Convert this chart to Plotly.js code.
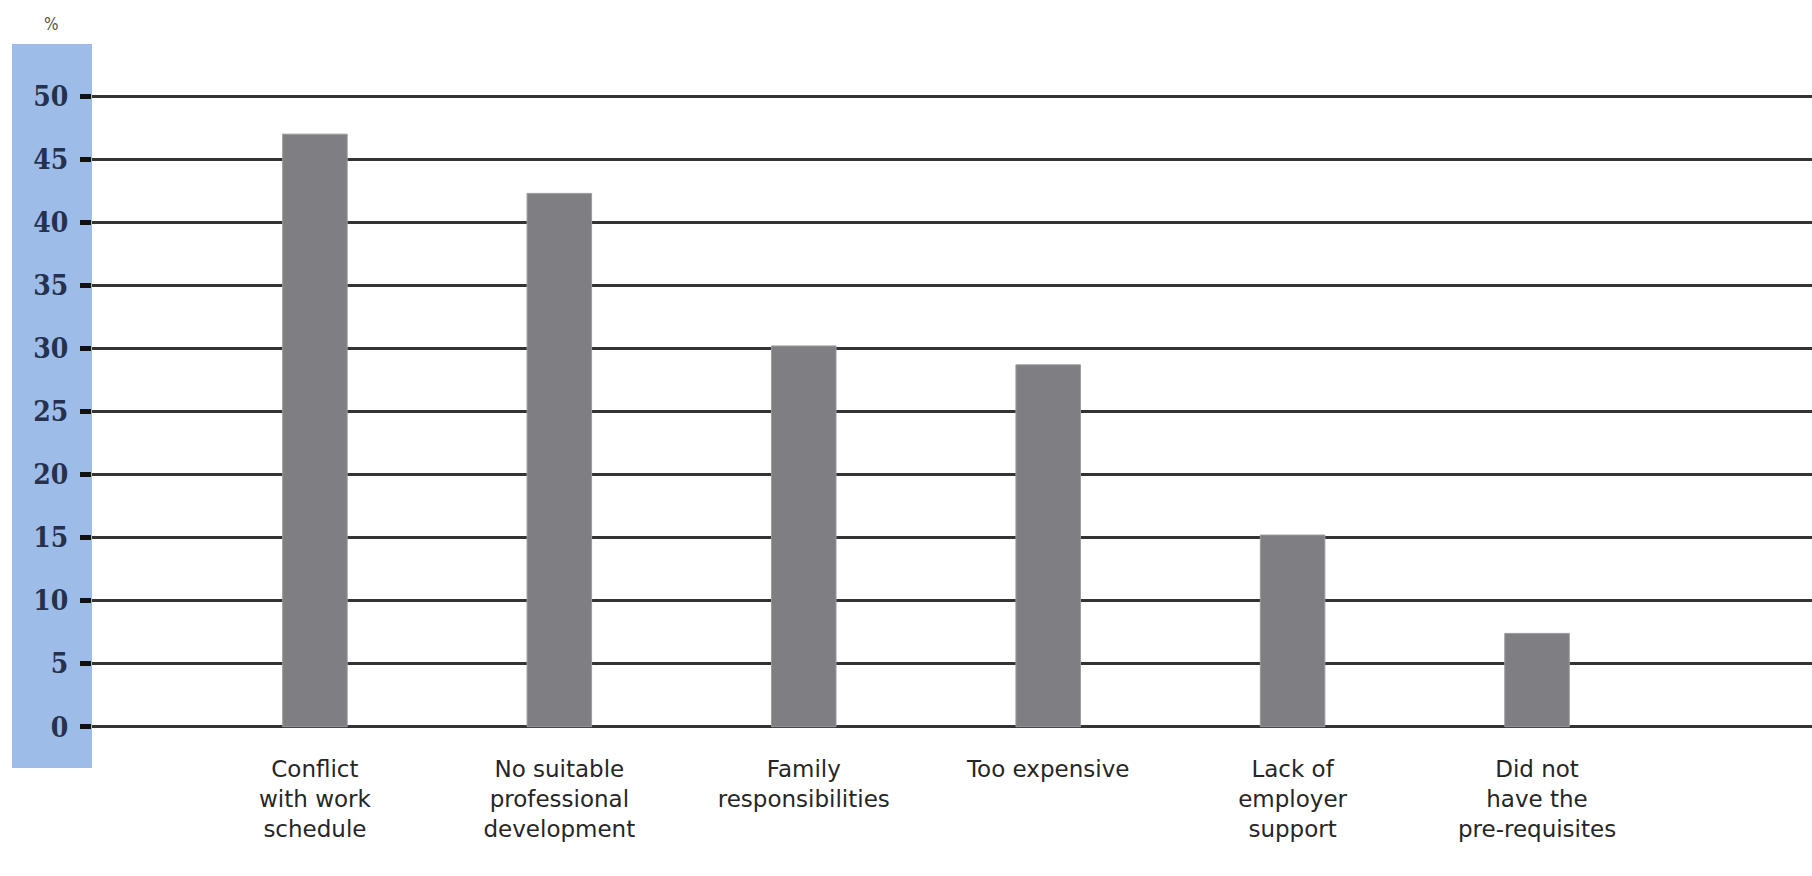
<!DOCTYPE html>
<html>
<head>
<meta charset="utf-8">
<script src="https://cdn.plot.ly/plotly-3.0.1.min.js"></script>
<style>html,body{margin:0;padding:0;background:#fff;overflow:hidden}#chart{width:1812px;height:876px}</style>
</head>
<body>
<div id="chart"></div>
<script>
var categories = [
  "Conflict<br>with work<br>schedule",
  "No suitable<br>professional<br>development",
  "Family<br>responsibilities",
  "Too expensive",
  "Lack of<br>employer<br>support",
  "Did not<br>have the<br>pre-requisites"
];
var values = [47.0, 42.3, 30.2, 28.7, 15.2, 7.4];
var yTicks = [0, 5, 10, 15, 20, 25, 30, 35, 40, 45, 50];
var yTickLabels = ["0", "5", "10", "15", "20", "25", "30", "35", "40", "45", "50"];

var W = 1812, H = 876;
var mL = 92, mR = 0, mT = 90, mB = 143;
var pw = W - mL - mR, ph = H - mT - mB;

var trace = {
  type: "bar",
  x: categories,
  y: values,
  width: 0.264,
  marker: {color: "#7f7f83", line: {color: "#9b9b9e", width: 1}},
  hoverinfo: "x+y"
};

var layout = {
  width: W, height: H, autosize: false,
  margin: {l: mL, r: mR, t: mT, b: mB, pad: 0},
  paper_bgcolor: "#ffffff",
  plot_bgcolor: "#ffffff",
  showlegend: false,
  bargap: 0,
  xaxis: {
    type: "category",
    range: [-0.912, 6.125],
    showgrid: false, zeroline: false, showline: false,
    ticks: "",
    tickfont: {family: "DejaVu Sans", size: 23, color: "#262626"},
    tickangle: 0,
    ticklabelstandoff: 20,
    fixedrange: true
  },
  yaxis: {
    range: [-0.5, 50.5],
    tickvals: yTicks,
    ticktext: yTickLabels,
    showgrid: true, gridcolor: "#333333", gridwidth: 3,
    zeroline: true, zerolinecolor: "#333333", zerolinewidth: 3,
    showline: false,
    ticks: "outside", ticklen: 11, tickwidth: 5, tickcolor: "#111111",
    tickfont: {family: "DejaVu Serif Condensed", size: 28, color: "#25314d", weight: "bold"},
    ticklabelstandoff: 6,
    fixedrange: true
  },
  shapes: [{
    type: "rect", xref: "paper", yref: "paper", layer: "below",
    x0: (12 - mL) / pw, x1: 0,
    y0: (H - mB - 768) / ph, y1: (H - mB - 44) / ph,
    fillcolor: "#9dbde8", line: {width: 0}
  }],
  annotations: [{
    text: "%", xref: "paper", yref: "paper", showarrow: false,
    x: (51 - mL) / pw, y: (H - mB - 24) / ph, xanchor: "center", yanchor: "middle",
    font: {family: "DejaVu Sans Condensed", size: 17, color: "#555555"}
  }]
};

Plotly.newPlot("chart", [trace], layout, {staticPlot: true, displayModeBar: false});
</script>
</body>
</html>
